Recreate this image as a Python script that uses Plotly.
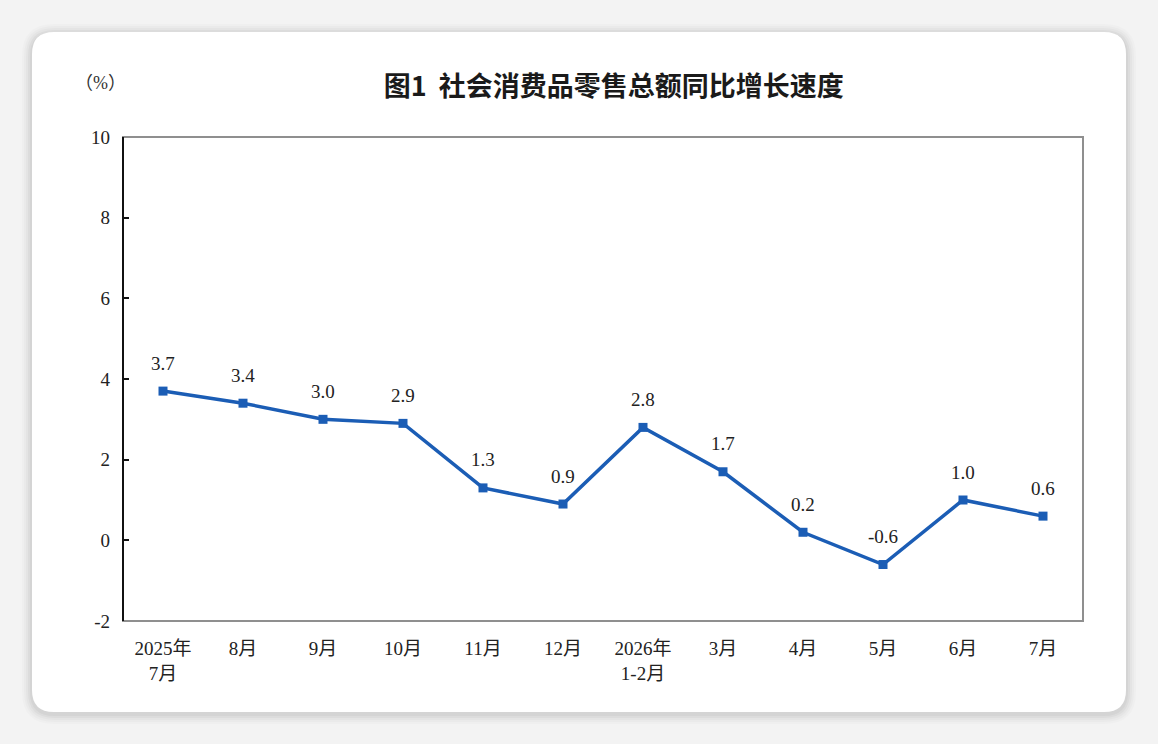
import plotly.graph_objects as go

# monthly year-on-year growth of total retail sales of consumer goods (%)
months = ["2025年<br>7月", "8月", "9月", "10月", "11月", "12月",
          "2026年<br>1-2月", "3月", "4月", "5月", "6月", "7月"]
growth = [3.7, 3.4, 3.0, 2.9, 1.3, 0.9, 2.8, 1.7, 0.2, -0.6, 1.0, 0.6]
y_ticks = [-2, 0, 2, 4, 6, 8, 10]

W, H = 1158, 744
L, R, T, B = 123, 75, 137, 123
BLUE = "#1b5db5"
SERIF = "Liberation Serif, Noto Sans CJK SC, serif"


def px(x, y):
    # page pixels -> paper coords (paper = plot area)
    return (x - L) / (W - L - R), (H - B - y) / (H - T - B)


def rounded_rect(x0, y0, x1, y1, r):
    a, b = px(x0, y0)
    c, d = px(x1, y1)
    rx = r / (W - L - R)
    ry = r / (H - T - B)
    return (f"M {a + rx},{b} L {c - rx},{b} Q {c},{b} {c},{b - ry} "
            f"L {c},{d + ry} Q {c},{d} {c - rx},{d} L {a + rx},{d} "
            f"Q {a},{d} {a},{d + ry} L {a},{b - ry} Q {a},{b} {a + rx},{b} Z")


fig = go.Figure()
fig.add_trace(go.Scatter(
    x=months, y=growth, mode="lines+markers",
    line=dict(color=BLUE, width=3.5),
    marker=dict(symbol="square", size=9, color=BLUE),
    hoverinfo="x+y", showlegend=False,
))

for m, v in zip(months, growth):
    fig.add_annotation(x=m, y=v, text=f"{v:.1f}", showarrow=False, yshift=28,
                       font=dict(family=SERIF, size=19, color="#222"))

shapes = []
# soft card shadow, then the white card
for i, op in enumerate([0.015, 0.02, 0.025, 0.03, 0.035]):
    g = 10 - i * 2
    shapes.append(dict(type="path", xref="paper", yref="paper", layer="below",
                       path=rounded_rect(32 - g, 32 - g + 2, 1126 + g, 712 + g + 2, 22 + g),
                       fillcolor=f"rgba(0,0,0,{op})", line=dict(width=0)))
shapes.append(dict(type="path", xref="paper", yref="paper", layer="below",
                   path=rounded_rect(32, 32, 1126, 712, 22),
                   fillcolor="white", line=dict(width=0)))
# plot frame: grey box with black left axis
shapes.append(dict(type="rect", xref="x domain", yref="y domain", x0=0, x1=1, y0=0, y1=1,
                   line=dict(color="#8f8f8f", width=2), layer="above"))
shapes.append(dict(type="line", xref="x domain", yref="y domain", x0=0, x1=0, y0=0, y1=1,
                   line=dict(color="#111", width=2), layer="above"))

fig.update_layout(
    width=W, height=H,
    margin=dict(l=L, r=R, t=T, b=B),
    paper_bgcolor="#f3f3f3",
    plot_bgcolor="white",
    shapes=shapes,
    title=dict(text="<b>图1  社会消费品零售总额同比增长速度</b>", x=0.53, xanchor="center",
               y=1 - 87 / H, yanchor="middle",
               font=dict(family="Noto Sans CJK SC", size=27, color="#1a1a1a")),
    xaxis=dict(range=[-0.5, len(months) - 0.5], showgrid=False, zeroline=False,
               showline=False, ticks="", ticklabelstandoff=14,
               tickfont=dict(family=SERIF, size=19, color="#222")),
    yaxis=dict(range=[-2, 10], tickvals=y_ticks, ticktext=[str(t) for t in y_ticks],
               showgrid=False, zeroline=False,
               showline=False, ticks="inside", ticklen=6, tickwidth=2, tickcolor="#111",
               ticklabelstandoff=12,
               tickfont=dict(family=SERIF, size=19, color="#222")),
)
ux, uy = px(100, 83)
fig.add_annotation(text="（%）", xref="paper", yref="paper", x=ux, y=uy,
                   xanchor="center", yanchor="middle",
                   showarrow=False, font=dict(family=SERIF, size=18, color="#333"))

fig.write_html("out.html", config={"displayModeBar": False},
               post_script="document.body.style.margin='0';")
